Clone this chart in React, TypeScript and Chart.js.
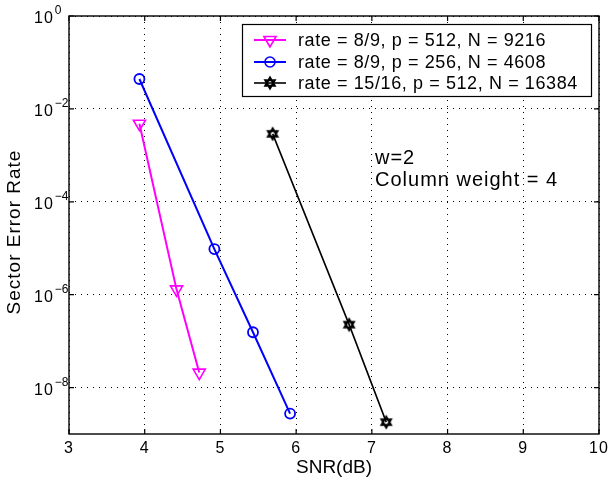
import React, { useEffect, useRef } from 'react';
import { Chart, registerables } from 'chart.js';

Chart.register(...registerables);

// ---- data ----
const snrA = [3.93, 4.42, 4.72];
const serA = [4.8e-3, 1.3e-6, 2.1e-8];
const snrB = [3.93, 4.92, 5.43, 5.92];
const serB = [4.4e-2, 9.6e-6, 1.55e-7, 2.75e-9];
const snrC = [5.69, 6.7, 7.19];
const serC = [2.9e-3, 2.26e-7, 1.8e-9];
const seriesLabels = [
  'rate = 8/9, p = 512, N = 9216',
  'rate = 8/9, p = 256, N = 4608',
  'rate = 15/16, p = 512, N = 16384',
];
const xTicks = [3, 4, 5, 6, 7, 8, 9, 10];
const yExponents = [0, -2, -4, -6, -8];
const xTitle = 'SNR(dB)';
const yTitle = 'Sector Error Rate';
const noteLines = ['w=2', 'Column weight = 4'];

const FONT = '"Liberation Sans", Arial, Helvetica, sans-serif';
const MAGENTA = '#ff00ff';
const BLUE = '#0000ff';
const BLACK = '#000000';

function hexagramPath(ctx: CanvasRenderingContext2D, x: number, y: number, r: number) {
  ctx.beginPath();
  for (let k = 0; k < 2; k++) {
    const base = k === 0 ? -Math.PI / 2 : Math.PI / 2;
    for (let i = 0; i < 3; i++) {
      const a = base + (i * 2 * Math.PI) / 3;
      const px = x + Math.cos(a) * r;
      const py = y + Math.sin(a) * r;
      if (i === 0) ctx.moveTo(px, py);
      else ctx.lineTo(px, py);
    }
    ctx.closePath();
  }
}

function makeHexagram(): HTMLCanvasElement {
  const c = document.createElement('canvas');
  c.width = 16;
  c.height = 16;
  const g = c.getContext('2d')!;
  g.strokeStyle = BLACK;
  g.lineWidth = 2;
  hexagramPath(g, 8, 8, 5.5);
  g.stroke();
  return c;
}

function trianglePath(ctx: CanvasRenderingContext2D, x: number, y: number, r: number) {
  let rad = Math.PI;
  ctx.beginPath();
  ctx.moveTo(x + Math.sin(rad) * r, y - Math.cos(rad) * r);
  rad += (2 * Math.PI) / 3;
  ctx.lineTo(x + Math.sin(rad) * r, y - Math.cos(rad) * r);
  rad += (2 * Math.PI) / 3;
  ctx.lineTo(x + Math.sin(rad) * r, y - Math.cos(rad) * r);
  ctx.closePath();
}

const decorPlugin = {
  id: 'decor',
  afterDraw(chart: any) {
    const { ctx, chartArea: a, scales } = chart;
    const xs = scales.x;
    const ys = scales.y;
    ctx.save();
    // axes box
    ctx.strokeStyle = BLACK;
    ctx.lineWidth = 1.4;
    ctx.strokeRect(a.left, a.top, a.right - a.left, a.bottom - a.top);
    // inward ticks
    ctx.lineWidth = 1.2;
    ctx.beginPath();
    xTicks.forEach((v) => {
      const px = xs.getPixelForValue(v);
      ctx.moveTo(px, a.bottom);
      ctx.lineTo(px, a.bottom - 5);
      ctx.moveTo(px, a.top);
      ctx.lineTo(px, a.top + 5);
    });
    yExponents.forEach((e) => {
      const py = ys.getPixelForValue(Math.pow(10, e));
      ctx.moveTo(a.left, py);
      ctx.lineTo(a.left + 5, py);
      ctx.moveTo(a.right, py);
      ctx.lineTo(a.right - 5, py);
    });
    ctx.stroke();

    ctx.fillStyle = BLACK;
    // x tick labels
    ctx.font = `16px ${FONT}`;
    (ctx as any).letterSpacing = '1px';
    ctx.textAlign = 'center';
    ctx.textBaseline = 'middle';
    xTicks.forEach((v) => {
      ctx.fillText(String(v), xs.getPixelForValue(v), a.bottom + 15);
    });
    // y tick labels with superscript exponents
    yExponents.forEach((e) => {
      const py = ys.getPixelForValue(Math.pow(10, e));
      ctx.textAlign = 'left';
      ctx.textBaseline = 'middle';
      ctx.font = `16px ${FONT}`;
      (ctx as any).letterSpacing = '1px';
      ctx.fillText('10', 34, py + 3);
      const w = ctx.measureText('10').width;
      ctx.font = `12px ${FONT}`;
      (ctx as any).letterSpacing = '0px';
      const ex = e === 0 ? '0' : '\u2212' + Math.abs(e);
      ctx.fillText(ex, 34 + w + 1, py - 5);
    });
    // axis titles
    ctx.font = `19px ${FONT}`;
    (ctx as any).letterSpacing = '0px';
    ctx.textAlign = 'center';
    ctx.textBaseline = 'middle';
    ctx.fillText(xTitle, (a.left + a.right) / 2, 468);
    ctx.save();
    ctx.translate(15, 232);
    ctx.rotate(-Math.PI / 2);
    (ctx as any).letterSpacing = '1px';
    ctx.fillText(yTitle, 0, 0);
    ctx.restore();

    // note text
    ctx.font = `20px ${FONT}`;
    (ctx as any).letterSpacing = '1px';
    ctx.textAlign = 'left';
    ctx.textBaseline = 'middle';
    ctx.fillText(noteLines[0], 375, 158);
    ctx.fillText(noteLines[1], 375, 180);

    // legend
    const lx = 242, ly = 24, lw = 349, lh = 72;
    ctx.fillStyle = '#ffffff';
    ctx.fillRect(lx, ly, lw, lh);
    ctx.strokeStyle = BLACK;
    ctx.lineWidth = 1.2;
    ctx.strokeRect(lx + 0.5, ly + 0.5, lw, lh);
    const rows = [40, 62, 83];
    const colors = [MAGENTA, BLUE, BLACK];
    const hex = makeHexagram();
    rows.forEach((ry, i) => {
      ctx.strokeStyle = colors[i];
      ctx.lineWidth = i === 2 ? 1.6 : 2;
      ctx.beginPath();
      ctx.moveTo(254, ry);
      ctx.lineTo(286, ry);
      ctx.stroke();
      ctx.lineWidth = 1.6;
      if (i === 0) {
        trianglePath(ctx, 270, ry, 7);
        ctx.stroke();
      } else if (i === 1) {
        ctx.beginPath();
        ctx.arc(270, ry, 5, 0, Math.PI * 2);
        ctx.stroke();
      } else {
        ctx.drawImage(hex, 270 - 8, ry - 8);
      }
      ctx.fillStyle = BLACK;
      ctx.font = `18px ${FONT}`;
      (ctx as any).letterSpacing = '0.6px';
      ctx.textAlign = 'left';
      ctx.textBaseline = 'middle';
      ctx.fillText(seriesLabels[i], 298, ry + 1);
    });
    (ctx as any).letterSpacing = '0px';
    ctx.restore();
  },
};

export default function App() {
  const ref = useRef<HTMLCanvasElement | null>(null);
  useEffect(() => {
    if (!ref.current) return;
    const hex = makeHexagram();
    const toPts = (xs: number[], ys: number[]) => xs.map((x, i) => ({ x, y: ys[i] }));
    const chart = new Chart(ref.current, {
      type: 'scatter',
      data: {
        datasets: [
          {
            label: seriesLabels[0],
            data: toPts(snrA, serA),
            showLine: true,
            borderColor: MAGENTA,
            borderWidth: 2,
            pointStyle: 'triangle',
            rotation: 180,
            pointRadius: 7,
            pointBorderWidth: 1.6,
            pointBorderColor: MAGENTA,
            pointBackgroundColor: 'rgba(0,0,0,0)',
          },
          {
            label: seriesLabels[1],
            data: toPts(snrB, serB),
            showLine: true,
            borderColor: BLUE,
            borderWidth: 2,
            pointStyle: 'circle',
            pointRadius: 5,
            pointBorderWidth: 1.8,
            pointBorderColor: BLUE,
            pointBackgroundColor: 'rgba(0,0,0,0)',
          },
          {
            label: seriesLabels[2],
            data: toPts(snrC, serC),
            showLine: true,
            borderColor: BLACK,
            borderWidth: 1.6,
            pointStyle: hex as any,
            pointRadius: 6,
            pointBorderColor: BLACK,
            pointBackgroundColor: 'rgba(0,0,0,0)',
          },
        ],
      },
      options: {
        responsive: false,
        animation: false,
        events: [],
        layout: { padding: { left: 69, top: 16, right: 9, bottom: 47 } },
        plugins: { legend: { display: false }, tooltip: { enabled: false } },
        scales: {
          x: {
            type: 'linear',
            min: 3,
            max: 10,
            ticks: { display: false, stepSize: 1 },
            grid: { color: '#000000', lineWidth: 1, drawTicks: false },
            border: { display: false, dash: [1, 5] },
            afterFit: (s: any) => {
              s.height = 0;
            },
          },
          y: {
            type: 'logarithmic',
            min: 1e-9,
            max: 1,
            ticks: { display: false },
            afterBuildTicks: (s: any) => {
              s.ticks = yExponents.map((e) => ({ value: Math.pow(10, e) }));
            },
            grid: { color: '#000000', lineWidth: 1, drawTicks: false },
            border: { display: false, dash: [1, 5] },
            afterFit: (s: any) => {
              s.width = 0;
            },
          },
        },
      },
      plugins: [decorPlugin],
    } as any);
    return () => chart.destroy();
  }, []);
  return (
    <div style={{ position: 'fixed', left: 0, top: 0, width: 608, height: 481, background: '#fff' }}>
      <canvas ref={ref} width={608} height={481} style={{ display: 'block' }} />
    </div>
  );
}
